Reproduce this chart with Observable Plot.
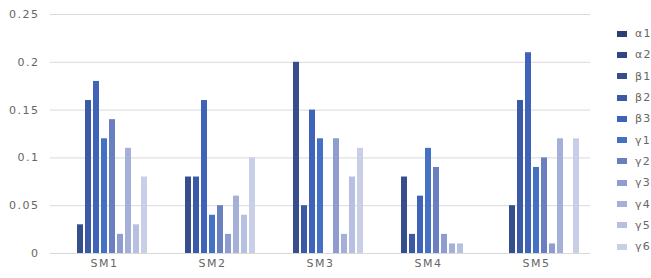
<!DOCTYPE html>
<html>
<head>
<meta charset="utf-8">
<script src="https://cdn.jsdelivr.net/npm/d3@7"></script>
<script src="https://cdn.jsdelivr.net/npm/@observablehq/plot@0.6"></script>
<style>
  html, body { margin: 0; padding: 0; background: #fff; }
  #wrap { position: relative; width: 651px; height: 278px; font-family: "DejaVu Sans", sans-serif; }
  #legend { position: absolute; left: 617px; top: 23px; }
  .li { display: flex; align-items: center; height: 21.3px; font-size: 11px; color: #666; letter-spacing: 1.2px; }
  .sw { width: 10px; height: 6px; margin-right: 8px; }
  #chart svg text { letter-spacing: 1.5px; }
</style>
</head>
<body>
<div id="wrap"><div id="chart"></div><div id="legend"></div></div>
<script>
const groups = ["SM1", "SM2", "SM3", "SM4", "SM5"];
const series = ["α1", "α2", "β1", "β2", "β3", "γ1", "γ2", "γ3", "γ4", "γ5", "γ6"];
const SM1 = [0, 0, 0.03, 0.16, 0.18, 0.12, 0.14, 0.02, 0.11, 0.03, 0.08];
const SM2 = [0, 0, 0.08, 0.08, 0.16, 0.04, 0.05, 0.02, 0.06, 0.04, 0.10];
const SM3 = [0, 0, 0.20, 0.05, 0.15, 0.12, 0, 0.12, 0.02, 0.08, 0.11];
const SM4 = [0, 0, 0.08, 0.02, 0.06, 0.11, 0.09, 0.02, 0.01, 0.01, 0];
const SM5 = [0, 0, 0.05, 0.16, 0.21, 0.09, 0.10, 0.01, 0.12, 0, 0.12];
const yTicks = [0, 0.05, 0.1, 0.15, 0.2, 0.25];
const colors = ["#2B3F72", "#314685", "#364E8C", "#3B59A6", "#3E63B8", "#4571C4", "#6A7FC0", "#8E9CD0", "#A5B0D8", "#B7C0E0", "#C9CFE7"];

const valuesByGroup = [SM1, SM2, SM3, SM4, SM5];
const data = [];
groups.forEach((g, gi) => series.forEach((s, si) => data.push({group: g, series: s, value: valuesByGroup[gi][si]})));

const chart = Plot.plot({
  width: 651,
  height: 278,
  marginLeft: 49,
  marginRight: 61,
  marginTop: 14,
  marginBottom: 25,
  style: {fontFamily: "'DejaVu Sans', sans-serif", fontSize: "11px", color: "#666", background: "#fff"},
  fx: {domain: groups, axis: "bottom", label: null, tickSize: 0, tickPadding: 6, padding: 0},
  x: {domain: series, axis: null, paddingInner: 0.26, paddingOuter: 1.0},
  y: {domain: [0, 0.25], ticks: yTicks, tickFormat: d => String(d), grid: true, label: null, tickSize: 0, tickPadding: 11},
  color: {domain: series, range: colors},
  marks: [
    Plot.barY(data, {fx: "group", x: "series", y: "value", fill: "series"})
  ]
});
document.getElementById("chart").appendChild(chart);
chart.querySelectorAll("[aria-label='y-grid'] line, [aria-label='y-axis'] line").forEach(l => { l.setAttribute("stroke", "#d9d9d9"); l.setAttribute("stroke-opacity", 1); });

const legend = document.getElementById("legend");
series.forEach((s, i) => {
  const row = document.createElement("div");
  row.className = "li";
  const sw = document.createElement("span");
  sw.className = "sw";
  sw.style.background = colors[i];
  const t = document.createElement("span");
  t.textContent = s;
  row.appendChild(sw); row.appendChild(t);
  legend.appendChild(row);
});
</script>
</body>
</html>
